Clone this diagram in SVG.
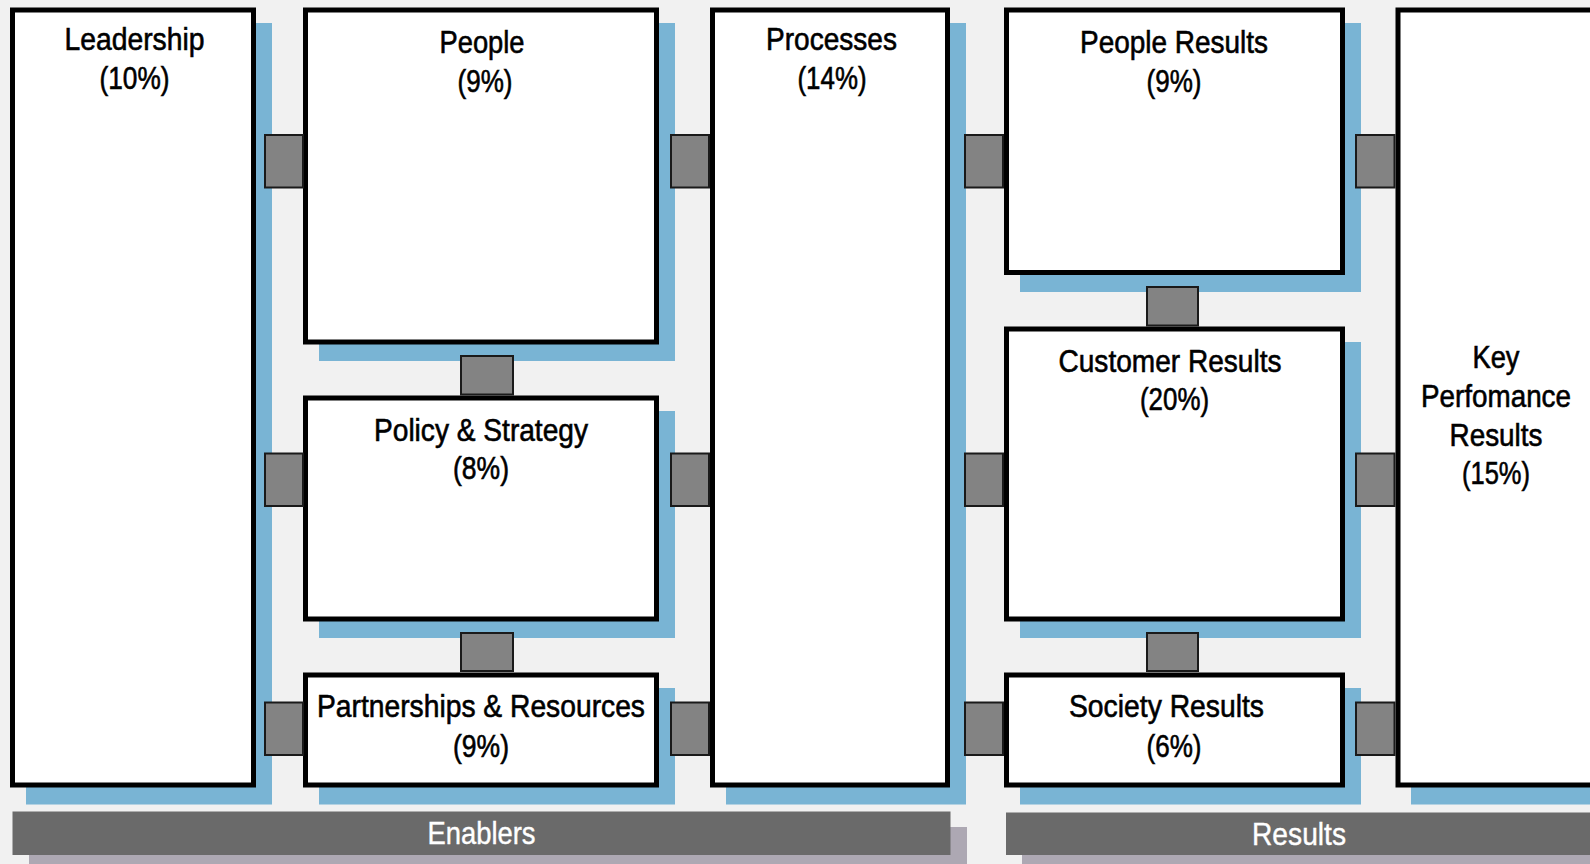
<svg xmlns="http://www.w3.org/2000/svg" width="1590" height="864" viewBox="0 0 1590 864">
<style>
.bg{fill:#f1f1f1}
.shadow{fill:#79b4d4}
.box{fill:#ffffff;stroke:#000000;stroke-width:5}
.lbl{font-family:"Liberation Sans",Arial,sans-serif;font-size:31.5px;fill:#000000;stroke:#000000;stroke-width:0.6px;text-anchor:middle}
.conn{fill:#838383;stroke:#1a1a1a;stroke-width:2}
.bar{fill:#6a6a6a}
.barshadow{fill:#ada8b3}
.barlbl{font-family:"Liberation Sans",Arial,sans-serif;font-size:31.5px;fill:#ffffff;stroke:#ffffff;stroke-width:0.4px;text-anchor:middle}
</style>
<rect class="bg" x="0" y="0" width="1590" height="864"/>

<g id="leadership">
  <rect class="shadow" x="26" y="23" width="246" height="781.5"/>
  <rect class="box" x="12.5" y="10" width="241" height="775"/>
  <text class="lbl" x="134.5" y="50" textLength="140" lengthAdjust="spacingAndGlyphs">Leadership</text>
  <text class="lbl" x="134.5" y="88.5" textLength="70" lengthAdjust="spacingAndGlyphs">(10%)</text>
</g>

<g id="people">
  <rect class="shadow" x="319" y="23" width="356" height="338"/>
  <rect class="box" x="305.5" y="10" width="351" height="332"/>
  <text class="lbl" x="482" y="52.7" textLength="85" lengthAdjust="spacingAndGlyphs">People</text>
  <text class="lbl" x="485" y="91.5" textLength="55" lengthAdjust="spacingAndGlyphs">(9%)</text>
</g>

<g id="policy-strategy">
  <rect class="shadow" x="319" y="411" width="356" height="227"/>
  <rect class="box" x="305.5" y="398" width="351" height="221"/>
  <text class="lbl" x="481" y="440.7" textLength="214" lengthAdjust="spacingAndGlyphs">Policy &amp; Strategy</text>
  <text class="lbl" x="481" y="478.5" textLength="56" lengthAdjust="spacingAndGlyphs">(8%)</text>
</g>

<g id="partnerships-resources">
  <rect class="shadow" x="319" y="688" width="356" height="116.5"/>
  <rect class="box" x="305.5" y="675" width="351" height="110"/>
  <text class="lbl" x="481" y="717.3" textLength="328" lengthAdjust="spacingAndGlyphs">Partnerships &amp; Resources</text>
  <text class="lbl" x="481" y="756.5" textLength="56" lengthAdjust="spacingAndGlyphs">(9%)</text>
</g>

<g id="processes">
  <rect class="shadow" x="726" y="23" width="240" height="781.5"/>
  <rect class="box" x="712.5" y="10" width="235" height="775"/>
  <text class="lbl" x="831.5" y="50" textLength="131" lengthAdjust="spacingAndGlyphs">Processes</text>
  <text class="lbl" x="832" y="88.5" textLength="69" lengthAdjust="spacingAndGlyphs">(14%)</text>
</g>

<g id="people-results">
  <rect class="shadow" x="1020" y="23" width="341" height="269"/>
  <rect class="box" x="1006.5" y="10" width="336" height="262.5"/>
  <text class="lbl" x="1174" y="52.7" textLength="188" lengthAdjust="spacingAndGlyphs">People Results</text>
  <text class="lbl" x="1174" y="91.5" textLength="55" lengthAdjust="spacingAndGlyphs">(9%)</text>
</g>

<g id="customer-results">
  <rect class="shadow" x="1020" y="342" width="341" height="296"/>
  <rect class="box" x="1006.5" y="329" width="336" height="290"/>
  <text class="lbl" x="1170" y="371.7" textLength="223" lengthAdjust="spacingAndGlyphs">Customer Results</text>
  <text class="lbl" x="1174.5" y="409.5" textLength="69" lengthAdjust="spacingAndGlyphs">(20%)</text>
</g>

<g id="society-results">
  <rect class="shadow" x="1020" y="688" width="341" height="116.5"/>
  <rect class="box" x="1006.5" y="675" width="336" height="110"/>
  <text class="lbl" x="1166.5" y="717.3" textLength="195" lengthAdjust="spacingAndGlyphs">Society Results</text>
  <text class="lbl" x="1174" y="757" textLength="55" lengthAdjust="spacingAndGlyphs">(6%)</text>
</g>

<g id="key-performance-results">
  <rect class="shadow" x="1411" y="23" width="300" height="781.5"/>
  <rect class="box" x="1398" y="10" width="300" height="775"/>
  <text class="lbl" x="1496" y="368.3" textLength="47" lengthAdjust="spacingAndGlyphs">Key</text>
  <text class="lbl" x="1496" y="406.7" textLength="150" lengthAdjust="spacingAndGlyphs">Perfomance</text>
  <text class="lbl" x="1496" y="446" textLength="93" lengthAdjust="spacingAndGlyphs">Results</text>
  <text class="lbl" x="1496" y="483.5" textLength="68" lengthAdjust="spacingAndGlyphs">(15%)</text>
</g>

<g id="connectors">
  <rect class="conn" x="265" y="135" width="38" height="52.5"/>
  <rect class="conn" x="265" y="453.5" width="38" height="52.5"/>
  <rect class="conn" x="265" y="702.5" width="38" height="52.5"/>
  <rect class="conn" x="671" y="135" width="38" height="52.5"/>
  <rect class="conn" x="671" y="453.5" width="38" height="52.5"/>
  <rect class="conn" x="671" y="702.5" width="38" height="52.5"/>
  <rect class="conn" x="965" y="135" width="38" height="52.5"/>
  <rect class="conn" x="965" y="453.5" width="38" height="52.5"/>
  <rect class="conn" x="965" y="702.5" width="38" height="52.5"/>
  <rect class="conn" x="1356" y="135" width="38.5" height="52.5"/>
  <rect class="conn" x="1356" y="453.5" width="38.5" height="52.5"/>
  <rect class="conn" x="1356" y="702.5" width="38.5" height="52.5"/>
  <rect class="conn" x="461" y="356" width="52" height="38.5"/>
  <rect class="conn" x="461" y="633" width="52" height="38"/>
  <rect class="conn" x="1147" y="287" width="51" height="38.5"/>
  <rect class="conn" x="1147" y="633" width="51" height="38"/>
</g>

<g id="enablers">
  <rect class="barshadow" x="29" y="827" width="938" height="44"/>
  <rect class="bar" x="12.5" y="811.5" width="938" height="43.5"/>
  <text class="barlbl" x="481.5" y="844.3" textLength="108" lengthAdjust="spacingAndGlyphs">Enablers</text>
</g>

<g id="results">
  <rect class="barshadow" x="1022" y="828" width="600" height="44"/>
  <rect class="bar" x="1006" y="812.5" width="600" height="42.5"/>
  <text class="barlbl" x="1299" y="845" textLength="94" lengthAdjust="spacingAndGlyphs">Results</text>
</g>
</svg>
